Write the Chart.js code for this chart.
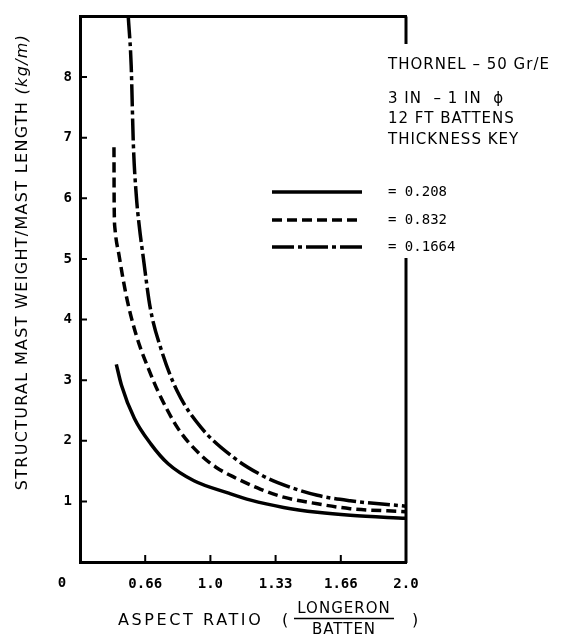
<!DOCTYPE html>
<html>
<head>
<meta charset="utf-8">
<script src="https://cdn.jsdelivr.net/npm/chart.js@4.4.1/dist/chart.umd.min.js"></script>
<style>
  html, body { margin: 0; padding: 0; background: #fff; }
</style>
</head>
<body>
<canvas id="massChart" width="580" height="638"></canvas>
<script>
// Structural mast weight vs aspect ratio (longeron / batten)
const thicknessKeys = ["= 0.208", "= 0.832", "= 0.1664"];
const noteLines = ["THORNEL \u2013 50 Gr/E", "3 IN  \u2013 1 IN  \u03d5", "12 FT BATTENS", "THICKNESS KEY"];

const xTickValues = [0.6667, 1.0, 1.3333, 1.6667, 2.0];
const xTickLabels = ["0.66", "1.0", "1.33", "1.66", "2.0"];
const yTickValues = [1, 2, 3, 4, 5, 6, 7, 8];

// t = 0.208 (solid)
const ratioThin = [0.519, 0.545, 0.611, 0.697, 0.784, 0.916, 1.089, 1.206, 1.374, 1.547, 1.715, 2.0];
const massThin  = [3.26, 2.92, 2.37, 1.94, 1.62, 1.34, 1.14, 1.02, 0.90, 0.82, 0.77, 0.72];

// t = 0.832 (dashed)
const ratioMid = [0.507, 0.508, 0.512, 0.534, 0.570, 0.621, 0.697, 0.733, 0.835, 0.952, 1.03, 1.12, 1.257, 1.374, 1.547, 1.715, 2.0];
const massMid  = [6.84, 5.91, 5.50, 5.04, 4.39, 3.74, 3.08, 2.81, 2.20, 1.76, 1.56, 1.40, 1.20, 1.07, 0.96, 0.88, 0.83];

// t = 0.1664 (long dash - dot)
const ratioThick = [0.580, 0.595, 0.606, 0.621, 0.636, 0.657, 0.692, 0.748, 0.830, 0.952, 1.12, 1.257, 1.344, 1.547, 1.715, 2.0];
const massThick  = [9.0, 8.19, 6.90, 6.05, 5.55, 5.02, 4.20, 3.51, 2.82, 2.22, 1.72, 1.44, 1.31, 1.10, 1.01, 0.92];

const dashMid = [10, 5];
const dashThick = [22, 4, 4, 4];

function toPoints(xs, ys) {
  return xs.map((x, i) => ({ x: x, y: ys[i] }));
}

const sansFont = "'DejaVu Sans', sans-serif";
const monoFont = "'DejaVu Sans Mono', monospace";

// frame, inward ticks, titles and key drawn on top
const decorations = {
  id: "decorations",
  afterDraw(chart) {
    const ctx = chart.ctx;
    const area = chart.chartArea;
    const xs = chart.scales.x;
    const ys = chart.scales.y;
    ctx.save();
    ctx.strokeStyle = "#000";
    ctx.fillStyle = "#000";
    ctx.lineWidth = 3;

    // top and broken right frame
    ctx.beginPath();
    ctx.moveTo(area.left - 1, area.top);
    ctx.lineTo(area.right + 1, area.top);
    ctx.moveTo(area.right, area.top);
    ctx.lineTo(area.right, 44);
    ctx.moveTo(area.right, 258);
    ctx.lineTo(area.right, area.bottom + 1);
    ctx.stroke();

    // inward ticks
    ctx.lineWidth = 2;
    ctx.beginPath();
    yTickValues.forEach(v => {
      const y = ys.getPixelForValue(v);
      ctx.moveTo(area.left, y);
      ctx.lineTo(area.left + 7, y);
    });
    xTickValues.slice(0, -1).forEach(v => {
      const x = xs.getPixelForValue(v);
      ctx.moveTo(x, area.bottom);
      ctx.lineTo(x, area.bottom - 7);
    });
    ctx.stroke();

    // origin label
    ctx.font = "bold 14px " + monoFont;
    ctx.textAlign = "center";
    ctx.textBaseline = "middle";
    ctx.fillText("0", 62, 583);

    // y axis title
    ctx.save();
    ctx.translate(23, 262);
    ctx.rotate(-Math.PI / 2);
    ctx.letterSpacing = "1.3px";
    const part1 = "STRUCTURAL MAST WEIGHT/MAST LENGTH ";
    const part2 = "(kg/m)";
    ctx.font = "italic 16px " + sansFont;
    const w2 = ctx.measureText(part2).width;
    ctx.font = "16px " + sansFont;
    const w1 = ctx.measureText(part1).width;
    ctx.textAlign = "left";
    ctx.fillText(part1, -(w1 + w2) / 2, 0);
    ctx.font = "italic 16px " + sansFont;
    ctx.fillText(part2, -(w1 + w2) / 2 + w1, 0);
    ctx.restore();

    // x axis title with fraction
    ctx.save();
    ctx.letterSpacing = "2.6px";
    ctx.font = "16px " + sansFont;
    ctx.textAlign = "left";
    ctx.fillText("ASPECT RATIO", 118, 621);
    ctx.letterSpacing = "0px";
    ctx.fillText("(", 282, 621);
    ctx.fillText(")", 412, 621);
    ctx.letterSpacing = "1px";
    ctx.font = "15px " + sansFont;
    ctx.textAlign = "center";
    ctx.fillText("LONGERON", 344, 609);
    ctx.fillText("BATTEN", 344, 630);
    ctx.lineWidth = 1.5;
    ctx.beginPath();
    ctx.moveTo(294, 618.5);
    ctx.lineTo(394, 618.5);
    ctx.stroke();
    ctx.restore();

    // notes
    ctx.save();
    ctx.letterSpacing = "1px";
    ctx.font = "15px " + sansFont;
    ctx.textAlign = "left";
    const noteY = [65, 99, 119, 140];
    noteLines.forEach((t, i) => ctx.fillText(t, 388, noteY[i]));
    ctx.restore();

    // thickness key
    const keyY = [192, 220, 247];
    chart.data.datasets.forEach((ds, i) => {
      ctx.save();
      ctx.lineWidth = 3.5;
      ctx.setLineDash(ds.borderDash || []);
      ctx.beginPath();
      ctx.moveTo(272, keyY[i]);
      ctx.lineTo(362, keyY[i]);
      ctx.stroke();
      ctx.restore();
      ctx.font = "14px " + monoFont;
      ctx.textAlign = "left";
      ctx.fillText(thicknessKeys[i], 388, keyY[i]);
    });
    ctx.restore();
  }
};

new Chart(document.getElementById("massChart"), {
  type: "line",
  data: {
    datasets: [
      { label: thicknessKeys[0], data: toPoints(ratioThin, massThin), borderColor: "#000", borderWidth: 3.5 },
      { label: thicknessKeys[1], data: toPoints(ratioMid, massMid), borderColor: "#000", borderWidth: 3.5, borderDash: dashMid },
      { label: thicknessKeys[2], data: toPoints(ratioThick, massThick), borderColor: "#000", borderWidth: 3.5, borderDash: dashThick },
    ],
  },
  options: {
    responsive: false,
    animation: false,
    layout: { padding: { top: 10, right: 174, left: 0, bottom: 0 } },
    elements: { point: { radius: 0 }, line: { cubicInterpolationMode: "monotone" } },
    plugins: { legend: { display: false }, tooltip: { enabled: false } },
    scales: {
      x: {
        type: "linear",
        min: 1 / 3,
        max: 2,
        afterBuildTicks: s => { s.ticks = xTickValues.map(v => ({ value: v })); },
        afterFit: s => { s.height = 76; },
        grid: { display: false, drawTicks: false },
        border: { display: true, color: "#000", width: 3 },
        ticks: {
          padding: 14,
          autoSkip: false,
          maxRotation: 0,
          color: "#000",
          font: { family: monoFont, size: 14, weight: "bold" },
          callback: (v, i) => xTickLabels[i],
        },
      },
      y: {
        min: 0,
        max: 9,
        afterBuildTicks: s => { s.ticks = yTickValues.map(v => ({ value: v })); },
        afterFit: s => { s.width = 80; },
        grid: { display: false, drawTicks: false },
        border: { display: true, color: "#000", width: 3 },
        ticks: {
          padding: 8,
          color: "#000",
          font: { family: monoFont, size: 14, weight: "bold" },
        },
      },
    },
  },
  plugins: [decorations],
});
</script>
</body>
</html>
